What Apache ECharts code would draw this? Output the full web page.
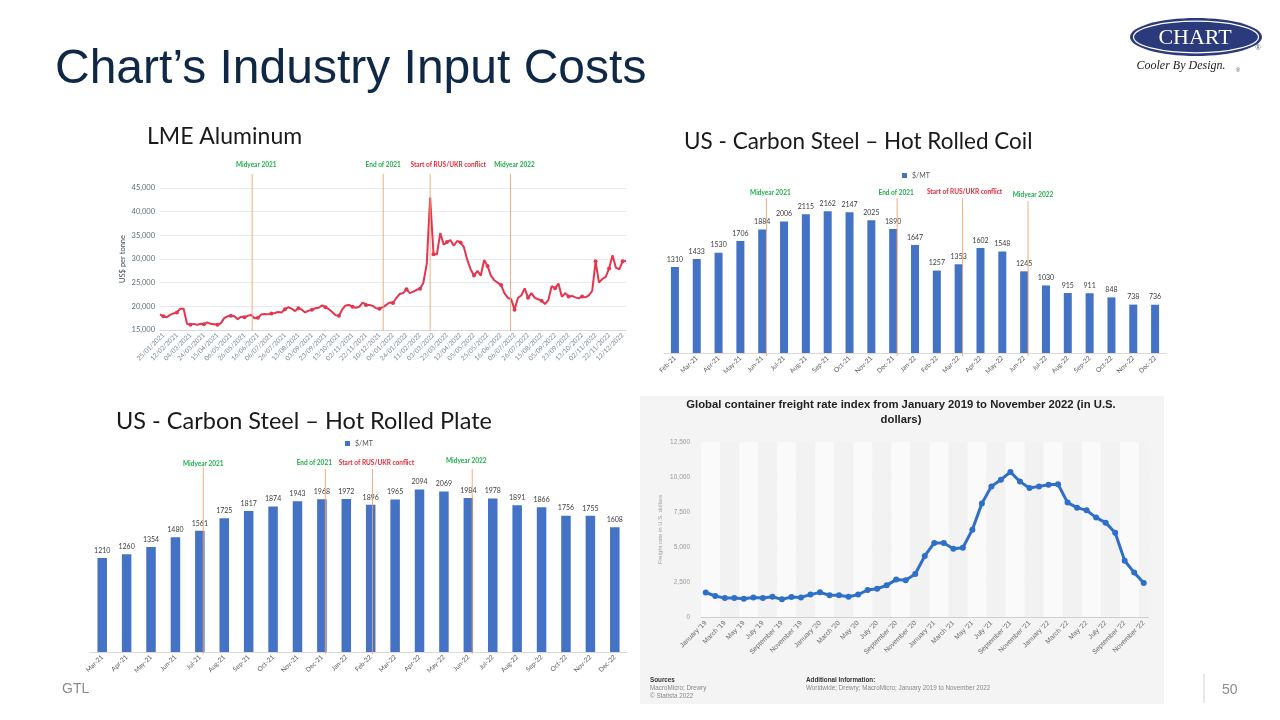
<!DOCTYPE html>
<html><head><meta charset="utf-8">
<script src="https://cdn.jsdelivr.net/npm/echarts@6/dist/echarts.min.js"></script>
<style>html,body{margin:0;padding:0;background:#fff}#c{width:1280px;height:720px}</style>
</head><body><div id="c"></div>
<script>
// ---------------- DATA ----------------
const eventNames = ['Midyear 2021', 'End of 2021', 'Start of RUS/UKR conflict', 'Midyear 2022'];

// LME Aluminum (US$ per tonne), trading-day samples (4 per date label)
const lmeDateLabels = ['25/01/2021','12/02/2021','04/03/2021','24/03/2021','15/04/2021','06/05/2021','26/05/2021','16/06/2021','06/07/2021','26/07/2021','13/08/2021','03/09/2021','23/09/2021','13/10/2021','02/11/2021','22/11/2021','10/12/2021','04/01/2022','24/01/2022','11/02/2022','03/03/2022','23/03/2022','12/04/2022','05/05/2022','25/05/2022','16/06/2022','06/07/2022','26/07/2022','15/08/2022','05/09/2022','23/09/2022','13/10/2022','02/11/2022','22/11/2022','12/12/2022'];
const lmeValues = [18300,17900,17700,18200,18500,18700,19500,19500,16300,16100,
  16300,16100,16300,16200,16600,16300,16200,16100,16400,17500,
  17900,18000,17900,17300,17800,17700,18000,18200,17500,17600,
  18300,18400,18300,18500,18600,18800,18700,19400,19800,19500,
  19000,19600,19300,18700,19100,19300,19600,19700,20200,19800,
  19400,18800,18100,18000,19400,20200,20300,19900,19700,19900,
  20800,20300,20300,20100,19600,19500,19800,20300,20800,20700,
  21800,22600,22800,23600,22800,23100,23500,23700,25000,29000,
  43000,31000,31000,35500,33000,33600,34000,32800,33800,33500,
  32500,29800,27800,26500,27500,26500,29800,28500,26500,25500,
  25000,24500,22800,21800,21500,19300,21800,22300,23800,21800,
  22800,21800,21500,21200,20500,21300,24300,23800,24800,22000,
  22800,22100,22200,21900,21700,22100,21900,22300,23300,29500,
  25000,25800,26200,28000,30800,28200,27800,29500,29600];
const lmeEventPos = [27.3, 66.1, 80.0, 103.8];
const lmeYTicks = [15000, 45000, 5000]; // min, max, step

// US Carbon Steel - Hot Rolled Coil ($/MT)
const hrcMonths = ['Feb-21','Mar-21','Apr-21','May-21','Jun-21','Jul-21','Aug-21','Sep-21','Oct-21','Nov-21','Dec-21','Jan-22','Feb-22','Mar-22','Apr-22','May-22','Jun-22','Jul-22','Aug-22','Sep-22','Oct-22','Nov-22','Dec-22'];
const hrcValues = [1310,1433,1530,1706,1884,2006,2115,2162,2147,2025,1890,1647,1257,1353,1602,1548,1245,1030,915,911,848,738,736];
const hrcEventPos = [4.19, 10.18, 13.18, 16.18];

// US Carbon Steel - Hot Rolled Plate ($/MT)
const plateMonths = ['Mar-21','Apr-21','May-21','Jun-21','Jul-21','Aug-21','Sep-21','Oct-21','Nov-21','Dec-21','Jan-22','Feb-22','Mar-22','Apr-22','May-22','Jun-22','Jul-22','Aug-22','Sep-22','Oct-22','Nov-22','Dec-22'];
const plateValues = [1210,1260,1354,1480,1561,1725,1817,1874,1943,1968,1972,1896,1965,2094,2069,1984,1978,1891,1866,1756,1755,1608];
const plateEventPos = [4.14, 9.14, 11.07, 15.16];

// Global container freight rate index (USD)
const freightMonths = ["January '19","February '19","March '19","April '19","May '19","June '19","July '19","August '19","September '19","October '19","November '19","December '19",
  "January '20","February '20","March '20","April '20","May '20","June '20","July '20","August '20","September '20","October '20","November '20","December '20",
  "January '21","February '21","March '21","April '21","May '21","June '21","July '21","August '21","September '21","October '21","November '21","December '21",
  "January '22","February '22","March '22","April '22","May '22","June '22","July '22","August '22","September '22","October '22","November '22"];
const freightValues = [1750,1500,1350,1350,1310,1400,1350,1450,1260,1430,1400,1600,
  1760,1550,1550,1450,1600,1930,2020,2260,2670,2620,3070,4360,
  5290,5290,4880,4950,6240,8100,9330,9810,10360,9670,9210,9330,
  9450,9480,8170,7810,7620,7100,6740,6020,4020,3170,2430];
const freightYTicks = [0, 12500, 2500];

// ---------------- CHART ----------------
const chart = echarts.init(document.getElementById('c'), null, {renderer: 'canvas'});
const SANS = '"Liberation Sans", Arial, sans-serif';
const CAL = 'Lato, "Open Sans", sans-serif';
const fmt = v => Number(v).toLocaleString('en-US');

const barX = (data) => ({
  type: 'category', data: data,
  axisLine: {lineStyle: {color: '#d9d9d9'}}, axisTick: {show: false},
  axisLabel: {interval: 0, rotate: 45, fontSize: 6.5, color: '#595959', margin: 4, fontFamily: CAL}
});
const barY = {type: 'value', min: 0, max: 2500, show: false, splitLine: {show: false}};
const barSeries = (xi, vals, bw) => ({
  name: '$/MT', type: 'bar', xAxisIndex: xi, yAxisIndex: xi, data: vals, barWidth: bw,
  itemStyle: {color: '#4472c4'},
  label: {show: true, position: 'top', distance: 4, fontSize: 7, color: '#404040', fontFamily: CAL}
});

const option = {
  animation: false,
  backgroundColor: '#ffffff',
  grid: [
    {left: 160, top: 188, width: 466, height: 142, outerBoundsMode: 'none'},
    {left: 664, top: 189, width: 502, height: 164, outerBoundsMode: 'none'},
    {left: 90, top: 458, width: 537, height: 194, outerBoundsMode: 'none'},
    {left: 701, top: 442, width: 447.5, height: 175, outerBoundsMode: 'none'}
  ],
  legend: [
    {left: 902, top: 172, data: ['$/MT'], icon: 'rect', itemWidth: 5, itemHeight: 5, itemGap: 3, padding: 0,
     textStyle: {fontSize: 7, color: '#595959', fontFamily: CAL}},
    {left: 345, top: 440, data: ['$/MT'], icon: 'rect', itemWidth: 5, itemHeight: 5, itemGap: 3, padding: 0,
     textStyle: {fontSize: 7, color: '#595959', fontFamily: CAL}}
  ],
  xAxis: [
    {type: 'category', gridIndex: 0, boundaryGap: false, data: lmeValues.map((_, i) => 'd' + i),
     axisLine: {lineStyle: {color: '#d5d9de'}}, axisTick: {show: false},
     axisLabel: {interval: i => i % 4 === 1, rotate: 45, fontSize: 6.5, color: '#7b8a99', margin: 4, fontFamily: CAL,
       formatter: (v, i) => (i % 4 === 1 ? lmeDateLabels[(i - 1) / 4] : '')}},
    Object.assign(barX(hrcMonths), {gridIndex: 1}),
    Object.assign(barX(plateMonths), {gridIndex: 2}),
    {type: 'category', gridIndex: 3, boundaryGap: true, data: freightMonths,
     axisLine: {lineStyle: {color: '#cfcfcf'}}, axisTick: {show: false},
     splitArea: {show: true, interval: 1, areaStyle: {color: ['#fafafa', '#f2f2f2']}},
     axisLabel: {interval: 1, rotate: 45, fontSize: 6.8, color: '#6e6e6e', margin: 5, fontFamily: SANS}}
  ],
  yAxis: [
    {type: 'value', gridIndex: 0, min: lmeYTicks[0], max: lmeYTicks[1], interval: lmeYTicks[2],
     name: 'US$ per tonne', nameLocation: 'middle', nameGap: 33,
     nameTextStyle: {fontSize: 7.5, color: '#3e4e5e', fontFamily: CAL},
     axisLine: {show: false}, axisTick: {show: false},
     axisLabel: {fontSize: 7.5, color: '#5e6e7e', margin: 5, fontFamily: CAL, formatter: fmt},
     splitLine: {lineStyle: {color: '#e8ebee'}}},
    Object.assign({gridIndex: 1}, barY),
    Object.assign({gridIndex: 2}, barY),
    {type: 'value', gridIndex: 3, min: freightYTicks[0], max: freightYTicks[1], interval: freightYTicks[2],
     name: 'Freight rate in U.S. dollars', nameLocation: 'middle', nameGap: 38,
     nameTextStyle: {fontSize: 6, color: '#a0a0a0', fontFamily: SANS},
     axisLine: {show: false}, axisTick: {show: false},
     axisLabel: {fontSize: 6.5, color: '#9a9a9a', margin: 11, fontFamily: SANS, formatter: fmt},
     splitLine: {lineStyle: {color: '#e2e2e2'}}}
  ],
  series: [
    {name: 'LME', type: 'line', xAxisIndex: 0, yAxisIndex: 0, data: lmeValues,
     symbol: 'circle', symbolSize: 4, showSymbol: true,
     lineStyle: {color: '#e6354e', width: 2}, itemStyle: {color: '#e6354e'}},
    barSeries(1, hrcValues, 8),
    barSeries(2, plateValues, 9.5),
    {name: 'Freight', type: 'line', xAxisIndex: 3, yAxisIndex: 3, data: freightValues,
     symbol: 'circle', symbolSize: 6, showSymbol: true,
     lineStyle: {color: '#2e6fc9', width: 3}, itemStyle: {color: '#2e6fc9'}}
  ]
};
chart.setOption(option);

// ---------------- ANNOTATIONS & DECOR ----------------
function catX(axis, f) {
  const i = Math.floor(f);
  const a = chart.convertToPixel({xAxisIndex: axis}, i);
  const b = chart.convertToPixel({xAxisIndex: axis}, i + 1);
  return a + (b - a) * (f - i);
}
const evColors = ['#1fae4b', '#1fae4b', '#e8283a', '#1fae4b'];
const annoSets = [
  {axis: 0, pos: lmeEventPos, top: [174, 174, 174, 174], bottom: 331, labelY: [165, 165, 165, 165], dx: [4, 0, 18, 4]},
  {axis: 1, pos: hrcEventPos, top: [198, 198, 198, 201], bottom: 356, labelY: [193, 193, 192, 194.5], dx: [4, -1, 2, 5]},
  {axis: 2, pos: plateEventPos, top: [467, 469, 469, 469], bottom: 654, labelY: [464, 463, 463, 461], dx: [0, -11, 4, -6]}
];
const g = [];
// Freight panel background (behind chart)
g.push({type: 'rect', z: -10, shape: {x: 640, y: 396, width: 524, height: 308}, style: {fill: '#f4f4f4'}});
annoSets.forEach(s => {
  s.pos.forEach((p, k) => {
    const x = catX(s.axis, p);
    g.push({type: 'line', z: 50, shape: {x1: x, y1: s.top[k], x2: x, y2: s.bottom},
      style: {stroke: '#f0a46e', lineWidth: 1, opacity: 0.9}});
    g.push({type: 'text', z: 50, x: x + s.dx[k], y: s.labelY[k],
      style: {text: eventNames[k], fill: evColors[k], font: 'bold 6.5px ' + CAL, textAlign: 'center', textVerticalAlign: 'middle'}});
  });
});
// Titles
g.push({type: 'text', x: 55, y: 70, style: {text: 'Chart’s Industry Input Costs', fill: '#0f2846', font: '48px ' + SANS, textVerticalAlign: 'middle'}});
g.push({type: 'text', x: 147, y: 137, style: {text: 'LME Aluminum', fill: '#1a1a1a', font: '23px ' + CAL, textVerticalAlign: 'middle'}});
g.push({type: 'text', x: 684, y: 142, style: {text: 'US - Carbon Steel – Hot Rolled Coil', fill: '#1a1a1a', font: '22.5px ' + CAL, textVerticalAlign: 'middle'}});
g.push({type: 'text', x: 116, y: 421, style: {text: 'US - Carbon Steel – Hot Rolled Plate', fill: '#1a1a1a', font: '23.5px ' + CAL, textVerticalAlign: 'middle'}});
// Freight title + sources
g.push({type: 'text', x: 901, y: 405, style: {text: 'Global container freight rate index from January 2019 to November 2022 (in U.S.', fill: '#222', font: 'bold 11.3px ' + SANS, textAlign: 'center', textVerticalAlign: 'middle'}});
g.push({type: 'text', x: 901, y: 420, style: {text: 'dollars)', fill: '#222', font: 'bold 11.3px ' + SANS, textAlign: 'center', textVerticalAlign: 'middle'}});
g.push({type: 'text', x: 650, y: 680, style: {text: 'Sources', fill: '#333', font: 'bold 6.3px ' + SANS, textVerticalAlign: 'middle'}});
g.push({type: 'text', x: 650, y: 688, style: {text: 'MacroMicro; Drewry', fill: '#888', font: '6.3px ' + SANS, textVerticalAlign: 'middle'}});
g.push({type: 'text', x: 650, y: 696, style: {text: '© Statista 2022', fill: '#888', font: '6.3px ' + SANS, textVerticalAlign: 'middle'}});
g.push({type: 'text', x: 806, y: 680, style: {text: 'Additional Information:', fill: '#333', font: 'bold 6.3px ' + SANS, textVerticalAlign: 'middle'}});
g.push({type: 'text', x: 806, y: 688, style: {text: 'Worldwide; Drewry; MacroMicro; January 2019 to November 2022', fill: '#888', font: '6.3px ' + SANS, textVerticalAlign: 'middle'}});
// Footer
g.push({type: 'text', x: 62, y: 689, style: {text: 'GTL', fill: '#8c8c8c', font: '14px ' + SANS, textVerticalAlign: 'middle'}});
g.push({type: 'line', shape: {x1: 1204, y1: 674, x2: 1204, y2: 703}, style: {stroke: '#d0d0d0', lineWidth: 1}});
g.push({type: 'text', x: 1222, y: 690, style: {text: '50', fill: '#8c8c8c', font: '14px ' + SANS, textVerticalAlign: 'middle'}});
// Logo
g.push({type: 'ellipse', shape: {cx: 1196, cy: 37, rx: 66, ry: 19}, style: {fill: '#2b3a7b'}});
g.push({type: 'ellipse', shape: {cx: 1196, cy: 37, rx: 62.5, ry: 15.8}, style: {fill: 'none', stroke: '#ffffff', lineWidth: 1.2}});
g.push({type: 'text', x: 1195, y: 38, style: {text: 'CHART', fill: '#ffffff', font: '22px "Liberation Serif", serif', textAlign: 'center', textVerticalAlign: 'middle'}});
g.push({type: 'text', x: 1258, y: 48, style: {text: '®', fill: '#555', font: '7px ' + SANS, textAlign: 'center', textVerticalAlign: 'middle'}});
g.push({type: 'text', x: 1181, y: 66, style: {text: 'Cooler By Design.', fill: '#222', font: 'italic 12px "Liberation Serif", serif', textAlign: 'center', textVerticalAlign: 'middle'}});
g.push({type: 'text', x: 1238, y: 70, style: {text: '®', fill: '#555', font: '6px ' + SANS, textAlign: 'center', textVerticalAlign: 'middle'}});

chart.setOption({graphic: g});
</script>
</body></html>
